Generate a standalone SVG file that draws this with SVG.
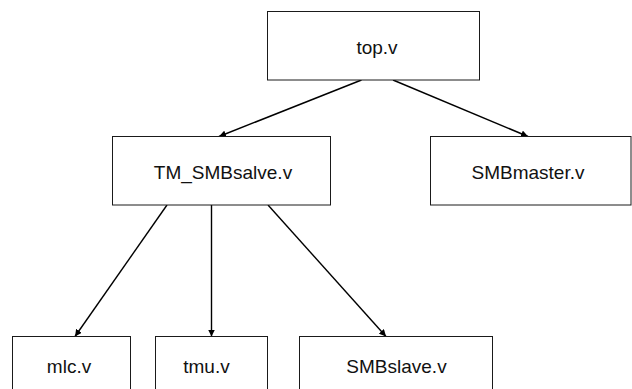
<svg xmlns="http://www.w3.org/2000/svg" width="632" height="389" viewBox="0 0 632 389">
  <style>
    .box { fill: #ffffff; stroke: #1a1a1a; stroke-width: 1; }
    .label { font-family: "Liberation Sans", Arial, sans-serif; font-size: 19px; fill: #111111; }
    .edge { fill: none; stroke: #000000; stroke-width: 1.4; marker-end: url(#arrow); }
  </style>
  <defs>
    <marker id="arrow" viewBox="0 0 10 10" refX="10" refY="5" markerWidth="7" markerHeight="7" markerUnits="userSpaceOnUse" orient="auto">
      <path d="M0,0 L10,5 L0,10 z" fill="#000000"/>
    </marker>
  </defs>
  <rect width="632" height="389" fill="#ffffff"/>

  <g id="connectors">
    <path class="edge" d="M361.5,80 L219,136.5"/>
    <path class="edge" d="M393,80 L528,136.5"/>
    <path class="edge" d="M167,205 L75,336.5"/>
    <path class="edge" d="M211.5,205 L211.5,336.5"/>
    <path class="edge" d="M268,205 L386,336.5"/>
  </g>

  <g id="top">
    <rect class="box" x="267.5" y="11.5" width="212" height="68.5"/>
    <text class="label" x="377" y="54" text-anchor="middle">top.v</text>
  </g>
  <g id="tm_smbsalve">
    <rect class="box" x="112.5" y="136.5" width="218" height="68.5"/>
    <text class="label" x="223" y="179" text-anchor="middle">TM_SMBsalve.v</text>
  </g>
  <g id="smbmaster">
    <rect class="box" x="430.5" y="136.5" width="200.5" height="68.5"/>
    <text class="label" x="528" y="178.5" text-anchor="middle">SMBmaster.v</text>
  </g>
  <g id="mlc">
    <rect class="box" x="12.5" y="336.5" width="118" height="60"/>
    <text class="label" x="69" y="373" text-anchor="middle">mlc.v</text>
  </g>
  <g id="tmu">
    <rect class="box" x="155.5" y="336.5" width="112" height="60"/>
    <text class="label" x="206.5" y="373" text-anchor="middle">tmu.v</text>
  </g>
  <g id="smbslave">
    <rect class="box" x="299.5" y="336.5" width="193" height="60"/>
    <text class="label" x="396.5" y="373" text-anchor="middle">SMBslave.v</text>
  </g>
</svg>
